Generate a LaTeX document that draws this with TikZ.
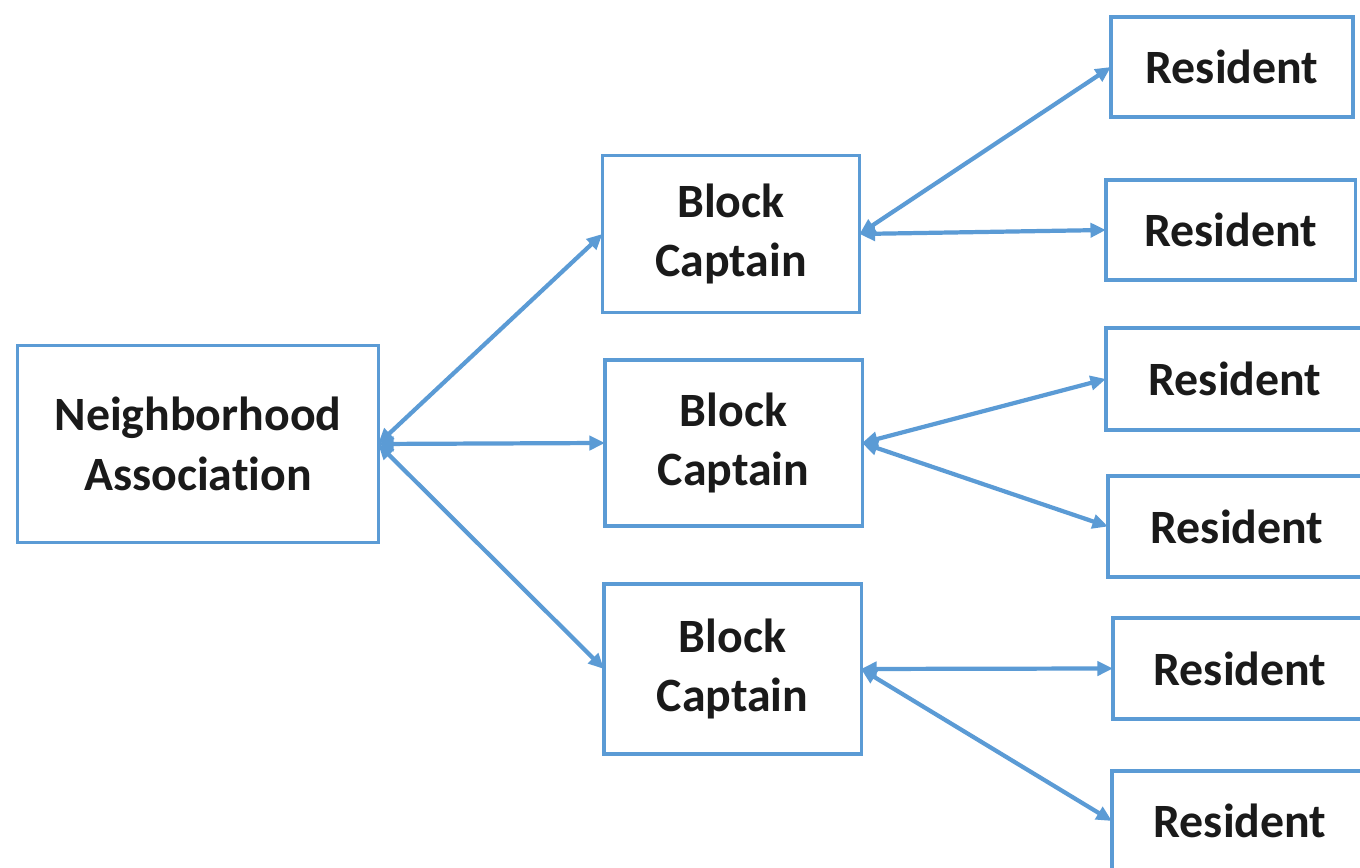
\documentclass[tikz,border=0pt]{standalone}
\usepackage{fontspec}
\setmainfont{Carlito}[Ligatures=NoCommon]
\usetikzlibrary{arrows.meta}
\definecolor{boxblue}{HTML}{5B9BD5}
\definecolor{ink}{HTML}{1A1A1A}
\begin{document}
\begin{tikzpicture}[x=0.01cm,y=-0.01cm,
  box/.style={draw=boxblue,line width=0.9pt,fill=white,inner sep=0pt,outer sep=0pt,
    align=center,text=ink,font=\fontsize{13.6}{17}\selectfont\bfseries},
  link/.style={draw=boxblue,line width=1.2pt,
    {Triangle[length=4.4pt,width=4pt]}-{Triangle[length=4.4pt,width=4pt]}}]
  \useasboundingbox[fill=white] (0,0) rectangle (1360,868);
  \clip (0,0) rectangle (1360,868);

  % association and block captains
  \node[box,minimum width=3.6cm,minimum height=1.97cm] (na) at (198,444) {Neighborhood\\Association};
  \node[box,minimum width=2.57cm,minimum height=1.57cm] (bc1) at (731,234) {Block\\Captain};
  \node[box,minimum width=2.57cm,minimum height=1.66cm] (bc2) at (733.5,443) {Block\\Captain};
  \node[box,minimum width=2.57cm,minimum height=1.70cm] (bc3) at (732.5,669) {Block\\Captain};

  % residents
  \node[box,minimum width=2.42cm,minimum height=1.0cm] (r1) at (1232,67) {Resident};
  \node[box,minimum width=2.49cm,minimum height=1.0cm] (r2) at (1230.5,230) {Resident};
  \node[box,minimum width=2.58cm,minimum height=1.02cm] (r3) at (1235,379) {Resident};
  \node[box,minimum width=2.58cm,minimum height=1.01cm] (r4) at (1237,526.5) {Resident};
  \node[box,minimum width=2.54cm,minimum height=1.01cm] (r5) at (1240,668.5) {Resident};
  \node[box,minimum width=2.56cm,minimum height=1.0cm] (r6) at (1240,821) {Resident};

  % connectors
  \draw[link] (na.east) -- (bc1.west);
  \draw[link] (na.east) -- (bc2.west);
  \draw[link] (na.east) -- (bc3.west);
  \draw[link] (bc1.east) -- (r1.west);
  \draw[link] (bc1.east) -- (r2.west);
  \draw[link] (bc2.east) -- (r3.west);
  \draw[link] (bc2.east) -- (r4.west);
  \draw[link] (bc3.east) -- (r5.west);
  \draw[link] (bc3.east) -- (r6.west);
\end{tikzpicture}
\end{document}
